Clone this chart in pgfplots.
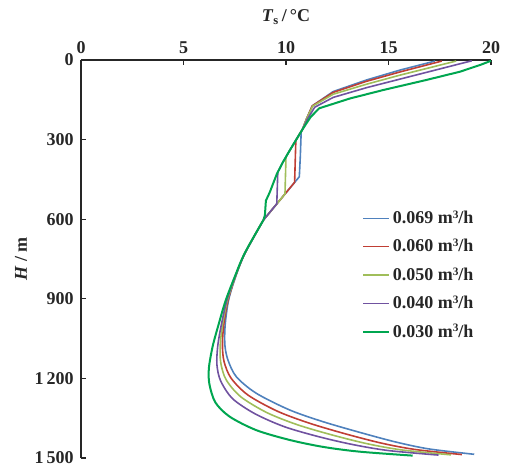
\documentclass[border=0pt]{standalone}
\usepackage{pgfplots}
\pgfplotsset{compat=1.18}
\usepackage{fontspec}
\setmainfont{Liberation Serif}
\definecolor{cblue}{RGB}{79,129,189}
\definecolor{cred}{RGB}{192,62,52}
\definecolor{cyel}{RGB}{160,190,90}
\definecolor{cpur}{RGB}{112,82,160}
\definecolor{cgrn}{RGB}{0,166,80}
\newcommand{\cub}{\raisebox{0.62ex}{\fontsize{8.5}{9}\selectfont 3}}
\begin{document}
\begin{tikzpicture}
\useasboundingbox (-60.75pt,-10.5pt) rectangle (319.5pt,343.5pt);
\begin{axis}[
  name=ax,
  at={(0,0)}, anchor=south west,
  scale only axis, width=307.5pt, height=298.5pt,
  xmin=0, xmax=20, ymin=0, ymax=1500,
  y dir=reverse,
  enlargelimits=false,
  clip=false,
  axis x line*=top, axis y line*=left,
  axis line style={line width=1.1pt, black!85},
  tick style={line width=1pt, black!85},
  tick align=inside,
  major tick length=4pt,
  xtick={0,5,10,15,20},
  ytick={0,300,600,900,1200,1500},
  scaled ticks=false,
  /pgf/number format/assume math mode=true,
  /pgf/number format/1000 sep={\,},
  ticklabel style={font=\fontsize{13.5}{15}\selectfont\bfseries, text=black!85},
  xticklabel style={yshift=1pt},
  yticklabel style={xshift=-2pt},
  xlabel={\textbf{\textit{T}\textsubscript{s}\,/\,°C}},
  label style={font=\fontsize{13.5}{15}\selectfont, text=black!85},
  xlabel style={at={(axis description cs:0.5,1)}, anchor=center, yshift=32pt},
  legend style={draw=none, fill=none, inner sep=0pt,
    at={(axis description cs:0.685,0.628)}, anchor=north west,
    font=\fontsize{13.5}{15}\selectfont\bfseries, text=black!85,
    row sep=6.3pt},
  legend cell align=left,
  legend image code/.code={\draw[#1] (0pt,0pt) -- (19.5pt,0pt);},
]
% ---- 0.069 ----
\addplot[cblue, line width=1.2pt] coordinates {
 (17.27,4) (15.56,38) (13.94,75) (12.3,119) (11.28,173) (11.0,222) (10.8,262)
 (10.74,272) (10.7,360) (10.65,440) (8.9,603)};
\addlegendentry{0.069 m\cub/h}
% ---- 0.060 ----
\addplot[cred, line width=1.2pt] coordinates {
 (17.6,4) (15.56,45) (13.94,80) (12.3,122) (11.28,173) (11.0,222) (10.8,262)
 (10.5,300) (10.48,303) (10.42,461) (8.9,603)};
\addlegendentry{0.060 m\cub/h}
% ---- 0.050 ----
\addplot[cyel, line width=1.2pt] coordinates {
 (18.3,4) (15.56,57) (13.94,91) (12.3,129) (11.3,174) (11.0,222) (10.8,262)
 (10.5,300) (10.15,345) (10.0,365) (9.95,505) (8.9,603)};
\addlegendentry{0.050 m\cub/h}
% ---- 0.040 ----
\addplot[cpur, line width=1.2pt] coordinates {
 (19.06,3) (18.6,12) (15.56,72) (13.94,104) (12.3,141) (11.4,178) (11.05,222)
 (10.8,262) (10.5,300) (10.15,345) (9.85,385) (9.6,422) (9.55,542) (8.9,603)};
\addlegendentry{0.040 m\cub/h}
% ---- 0.030 ----
\addplot[cgrn, line width=1.5pt] coordinates {
 (20.0,3) (19.46,19) (18.49,44) (16.86,75) (14.75,113) (13.12,145) (11.62,182)
 (11.2,215) (10.8,262) (10.5,300) (10.15,345) (9.85,385) (9.55,430) (9.35,470)
 (9.2,500) (9.02,530) (8.97,585) (8.9,603)};
\addlegendentry{0.030 m\cub/h}
% ---- lower parts ----
\addplot[cblue, line width=1.2pt, smooth, tension=0.5, forget plot] coordinates {
 (8.9,603) (8.0,728) (7.55,815) (7.2,905) (7.03,1000) (7.02,1075) (7.17,1131)
 (7.58,1194) (8.55,1256) (10.18,1319) (11.8,1363) (13.58,1403) (15.37,1440)
 (16.99,1466) (19.18,1486)};
\addplot[cred, line width=1.2pt, smooth, tension=0.5, forget plot] coordinates {
 (8.9,603) (8.0,728) (7.54,815) (7.17,906) (6.96,1000) (6.9,1076) (6.98,1137)
 (7.32,1199) (8.15,1263) (9.59,1324) (11.15,1369) (12.9,1409) (14.66,1444)
 (16.31,1468) (18.58,1487)};
\addplot[cyel, line width=1.2pt, smooth, tension=0.5, forget plot] coordinates {
 (8.9,603) (7.99,728) (7.53,816) (7.14,906) (6.9,1000) (6.79,1077) (6.82,1142)
 (7.08,1205) (7.79,1269) (9.07,1329) (10.57,1375) (12.29,1414) (14.01,1447)
 (15.69,1470) (18.04,1488)};
\addplot[cpur, line width=1.2pt, smooth, tension=0.5, forget plot] coordinates {
 (8.9,603) (7.99,729) (7.52,816) (7.11,907) (6.84,1000) (6.67,1078) (6.63,1148)
 (6.81,1209) (7.39,1276) (8.48,1333) (9.92,1382) (11.61,1420) (13.3,1450)
 (15.01,1472) (17.44,1489)};
\addplot[cgrn, line width=1.5pt, smooth, tension=0.5, forget plot] coordinates {
 (8.9,603) (7.98,729) (7.5,817) (7.05,908) (6.7,1000) (6.42,1080) (6.24,1160)
 (6.26,1220) (6.55,1290) (7.25,1344) (8.55,1395) (10.18,1432) (11.8,1458)
 (13.58,1476) (16.18,1491)};
\end{axis}
\node[rotate=90, font=\fontsize{13.5}{15}\selectfont\bfseries, text=black!85]
  at ([xshift=-45pt]ax.west) {\textit{H} / m};
\end{tikzpicture}
\end{document}
